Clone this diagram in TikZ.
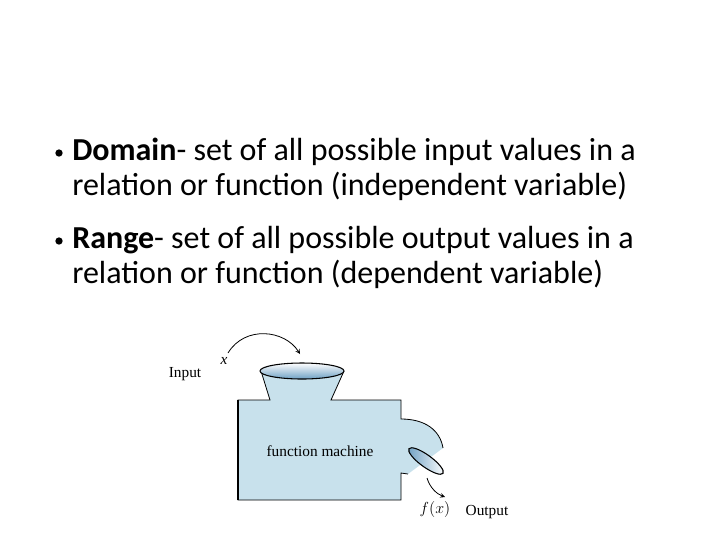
\documentclass[tikz,border=0pt]{standalone}
\usepackage{fontspec}
\setmainfont{Carlito}
\newfontfamily\serf{Liberation Serif}
\definecolor{machblue}{RGB}{200,225,236}
\definecolor{darkblue}{RGB}{110,160,195}
\begin{document}
\begin{tikzpicture}[x=0.75pt,y=-0.75pt,
  txt/.style={anchor=west,inner sep=0pt,font=\fontsize{24}{28}\selectfont},
  bul/.style={circle,fill=black,inner sep=0pt,minimum size=5.5pt},
  lbl/.style={inner sep=0pt,font=\serf\fontsize{11.5}{13}\selectfont},
  arr/.style={-stealth,line width=0.6pt}]
\useasboundingbox (0,0) rectangle (720,540);
\node[bul] (b1) at (59,153) {};
\node[txt] (l1) at (72,152) {\textbf{Domain}- set of all possible input values in a};
\node[txt] (l2) at (72,186) {relation or function (independent variable)};
\node[bul] (b2) at (59,241) {};
\node[txt] (l3) at (72,240) {\textbf{Range}- set of all possible output values in a};
\node[txt] (l4) at (72,274) {relation or function (dependent variable)};
% machine
\fill[machblue] (238,400) -- (270,400) -- (261,371) -- (344,371) -- (331,400) -- (401,400) -- (401,419)
  .. controls (425,419) and (440,430) .. (443,448) -- (408,474) -- (401,473) -- (401,500) -- (238,500) -- cycle;
\draw[line width=0.6pt] (261,371) -- (270,400) -- (238,400) -- (238,500) -- (401,500) -- (401,473) -- (408,474);
\draw[line width=1.5pt] (238,400) -- (238,500);
\draw[line width=0.6pt] (344,371) -- (331,400) -- (401,400) -- (401,419) .. controls (425,419) and (440,430) .. (443,448);
\draw[line width=0.8pt,top color=white,bottom color=darkblue] (302,371) ellipse [x radius=42,y radius=8];
\draw[line width=0.8pt,left color=darkblue,right color=white,rotate around={-36:(426,461)}] (426,461) ellipse [x radius=21,y radius=6];
\node[lbl] (fm) at (320,451) {function machine};
\node[lbl] (in) at (185,374) {Input};
\node[lbl,font=\serf\itshape\fontsize{11.5}{13}\selectfont] (x) at (224,361) {x};
\node[lbl] (fx) at (435,509) {$f(x)$};
\node[lbl] (out) at (487,512) {Output};
\coordinate (a1) at (228,353);
\coordinate (a2) at (300,354);
\draw[arr] (a1) .. controls (245,325) and (285,330) .. (a2);
\coordinate (o1) at (427,478);
\coordinate (o2) at (445,497);
\draw[arr] (o1) .. controls (430,488) and (437,494) .. (o2);
\end{tikzpicture}
\end{document}
